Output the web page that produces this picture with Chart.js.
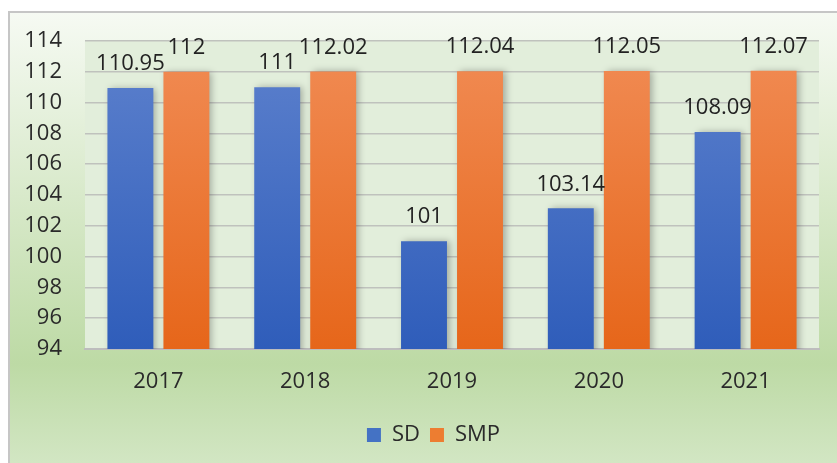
<!DOCTYPE html>
<html>
<head>
<meta charset="utf-8">
<script src="https://cdn.jsdelivr.net/npm/chart.js@4/dist/chart.umd.min.js"></script>
<style>
body { margin: 0; background: #fff; }
</style>
</head>
<body>
<canvas id="myChart" width="837" height="463"></canvas>
<script>
var years = ['2017', '2018', '2019', '2020', '2021'];
var sdValues = [110.95, 111, 101, 103.14, 108.09];
var smpValues = [112, 112.02, 112.04, 112.05, 112.07];
var yMin = 94, yMax = 114, yStep = 2;

function barGradient(top, bottom) {
    return function(context) {
        var ca = context.chart.chartArea;
        if (!ca) return bottom;
        var g = context.chart.ctx.createLinearGradient(0, ca.top, 0, ca.bottom);
        g.addColorStop(0, top);
        g.addColorStop(1, bottom);
        return g;
    };
}

// page background, frame and plot area fill
var backdrop = {
    id: 'backdrop',
    beforeDraw: function(chart) {
        var ctx = chart.ctx, ca = chart.chartArea;
        ctx.save();
        ctx.fillStyle = '#fff';
        ctx.fillRect(0, 0, chart.width, chart.height);
        var g = ctx.createLinearGradient(0, 12, 0, chart.height);
        g.addColorStop(0, '#f6faf3');
        g.addColorStop(0.78, '#bddaa5');
        g.addColorStop(1, '#d2e6c3');
        ctx.fillStyle = g;
        ctx.fillRect(9, 12, chart.width - 9, chart.height - 12);
        ctx.strokeStyle = '#c6c6c6';
        ctx.lineWidth = 2;
        ctx.beginPath();
        ctx.moveTo(9, chart.height);
        ctx.lineTo(9, 12);
        ctx.lineTo(chart.width, 12);
        ctx.stroke();
        ctx.fillStyle = '#e2eedb';
        ctx.fillRect(ca.left, ca.top, ca.right - ca.left, ca.bottom - ca.top);
        ctx.restore();
    },
    afterLayout: function(chart) {
        // legend sits a bit right of canvas centre in the original
        chart.legend.left += 24;
        chart.legend.right += 24;
    }
};

// soft shadow behind the bars
var barShadow = {
    id: 'barShadow',
    beforeDatasetsDraw: function(chart) {
        var ctx = chart.ctx;
        ctx.save();
        ctx.shadowColor = 'rgba(0,0,0,0.28)';
        ctx.shadowBlur = 7;
        ctx.shadowOffsetX = 3;
        ctx.shadowOffsetY = 0;
    },
    afterDatasetsDraw: function(chart) {
        chart.ctx.restore();
    }
};

// value labels above bars
var valueLabels = {
    id: 'valueLabels',
    afterDatasetsDraw: function(chart) {
        var ctx = chart.ctx;
        ctx.save();
        ctx.font = "22px 'Open Sans', sans-serif";
        ctx.fillStyle = '#222';
        ctx.textAlign = 'center';
        ctx.textBaseline = 'middle';
        chart.data.datasets.forEach(function(ds, i) {
            var meta = chart.getDatasetMeta(i);
            meta.data.forEach(function(bar, j) {
                ctx.fillText(String(ds.data[j]), bar.x, bar.y - 24);
            });
        });
        ctx.restore();
    }
};

Chart.defaults.font.family = "'Open Sans', sans-serif";
Chart.defaults.color = '#2a2a2a';

var ctx = document.getElementById('myChart').getContext('2d');
var myChart = new Chart(ctx, {
    type: 'bar',
    data: {
        labels: years,
        datasets: [{
            label: 'SD',
            data: sdValues,
            backgroundColor: barGradient('#5d81cd', '#2f5dba'),
            categoryPercentage: 0.763,
            barPercentage: 0.82
        }, {
            label: 'SMP',
            data: smpValues,
            backgroundColor: barGradient('#f18c55', '#e6661a'),
            categoryPercentage: 0.763,
            barPercentage: 0.82
        }]
    },
    options: {
        responsive: false,
        animation: false,
        layout: { padding: { left: 0, top: 41, right: 18, bottom: 7 } },
        scales: {
            x: {
                grid: { display: false },
                border: { color: '#bdbdbd', width: 2 },
                ticks: { font: { size: 22 }, padding: 12 },
                afterFit: function(scale) { scale.height = 65; }
            },
            y: {
                min: yMin,
                max: yMax,
                ticks: { stepSize: yStep, font: { size: 22 }, padding: 23 },
                grid: { color: '#bfc2bd', lineWidth: 1.5, drawTicks: false },
                border: { display: false },
                afterFit: function(scale) { scale.width = 85; }
            }
        },
        plugins: {
            legend: {
                position: 'bottom',
                labels: {
                    boxWidth: 14,
                    boxHeight: 14,
                    padding: 10,
                    font: { size: 22 },
                    generateLabels: function(chart) {
                        var cols = ['#4472c4', '#ed7d31'];
                        return chart.data.datasets.map(function(ds, i) {
                            return { text: ds.label, fillStyle: cols[i], strokeStyle: cols[i], lineWidth: 0, datasetIndex: i, fontColor: '#2a2a2a' };
                        });
                    }
                }
            },
            tooltip: { enabled: false }
        }
    },
    plugins: [backdrop, barShadow, valueLabels]
});
</script>
</body>
</html>
